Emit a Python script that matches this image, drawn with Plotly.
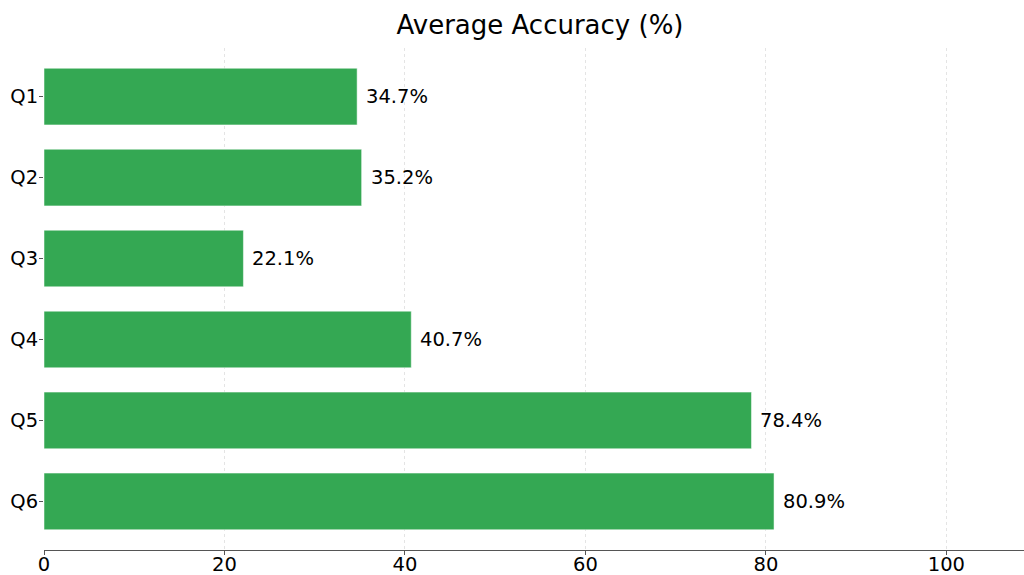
import plotly.graph_objects as go

categories = ["Q1", "Q2", "Q3", "Q4", "Q5", "Q6"]
accuracy = [34.7, 35.2, 22.1, 40.7, 78.4, 80.9]
labels = [f"{v:.1f}%" for v in accuracy]
x_ticks = [0, 20, 40, 60, 80, 100]

FONT = "DejaVu Sans"

fig = go.Figure()
fig.add_trace(go.Bar(
    x=accuracy, y=categories, orientation="h",
    marker=dict(color="#34A853", line=dict(color="rgba(255,255,255,0.5)", width=1)),
    width=0.7, hoverinfo="skip",
))

for c, v, t in zip(categories, accuracy, labels):
    fig.add_annotation(x=v, y=c, text=t, xanchor="left", yanchor="middle",
                       xshift=7, showarrow=False,
                       font=dict(family=FONT, size=19.5, color="#000000"))

fig.update_layout(
    width=1024, height=575,
    margin=dict(l=44, r=0, t=48, b=25, autoexpand=False),
    paper_bgcolor="white", plot_bgcolor="white",
    showlegend=False,
    font=dict(family=FONT, size=19, color="#000000"),
    title=dict(text="Average Accuracy (%)", x=540/1024, xanchor="center",
               y=1 - 25/575, yanchor="middle", yref="container",
               font=dict(family=FONT, size=26, color="#000000")),
    bargap=0.3,
)
fig.update_xaxes(
    range=[0, 108.6], tickvals=x_ticks, ticktext=[str(v) for v in x_ticks],
    showgrid=True, gridcolor="#e4e4e4", griddash="dot", gridwidth=0.8,
    showline=True, linecolor="#555555", linewidth=1.2,
    ticks="outside", ticklen=4, tickcolor="#555555", zeroline=False,
    tickfont=dict(family=FONT, size=19.5, color="#000000"), automargin=False,
    ticklabelstandoff=-8,
)
fig.update_yaxes(
    autorange=False, range=[5.6, -0.6], categoryorder="array", categoryarray=categories,
    showgrid=False, showline=False, ticks="outside", ticklen=4, tickcolor="#555555",
    tickfont=dict(family=FONT, size=19.5, color="#000000"), automargin=False,
    ticklabelstandoff=-3,
)

fig.write_html("out.html", config={"displayModeBar": False},
               post_script="document.body.style.margin='0';document.body.style.overflow='hidden';")
